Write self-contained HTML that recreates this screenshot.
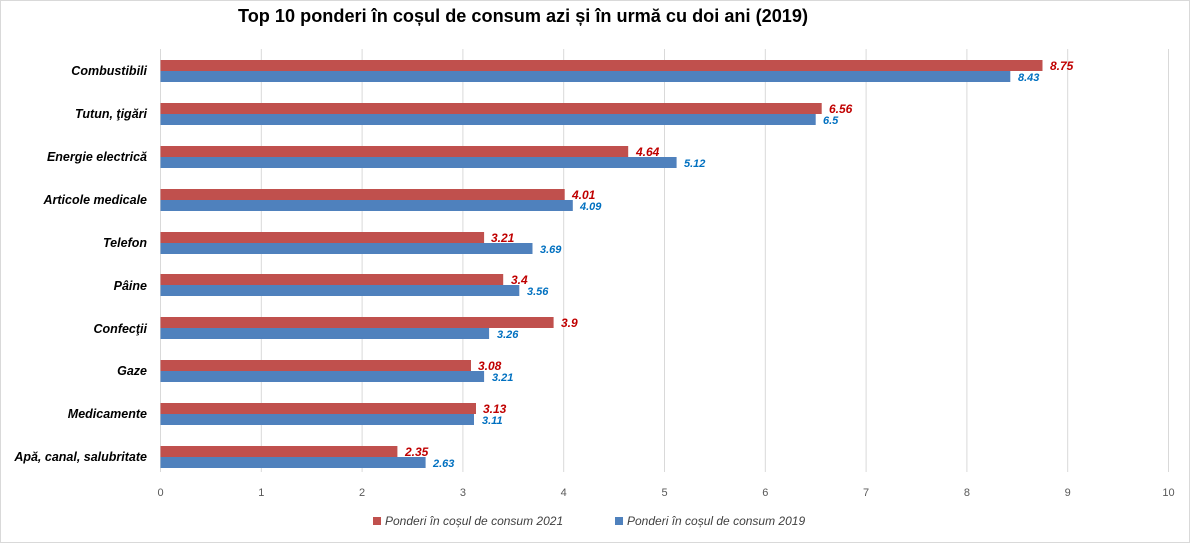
<!DOCTYPE html>
<html><head><meta charset="utf-8"><style>
html,body{margin:0;padding:0;background:#fff;}
svg{display:block;font-family:"Liberation Sans",sans-serif;}
</style></head><body>
<svg width="1200" height="560" viewBox="0 0 1200 560" xmlns="http://www.w3.org/2000/svg">
<rect x="0.5" y="0.5" width="1189" height="542" fill="#fff" stroke="#d9d9d9"/>
<text x="523" y="22" text-anchor="middle" font-size="18" font-weight="bold" textLength="570" lengthAdjust="spacingAndGlyphs">Top 10 ponderi în coșul de consum azi și în urmă cu doi ani (2019)</text>
<g stroke="#d9d9d9" stroke-width="1">
<line x1="160.5" y1="49" x2="160.5" y2="472"/>
<line x1="261.3" y1="49" x2="261.3" y2="472"/>
<line x1="362.1" y1="49" x2="362.1" y2="472"/>
<line x1="462.9" y1="49" x2="462.9" y2="472"/>
<line x1="563.7" y1="49" x2="563.7" y2="472"/>
<line x1="664.5" y1="49" x2="664.5" y2="472"/>
<line x1="765.3" y1="49" x2="765.3" y2="472"/>
<line x1="866.1" y1="49" x2="866.1" y2="472"/>
<line x1="966.9" y1="49" x2="966.9" y2="472"/>
<line x1="1067.7" y1="49" x2="1067.7" y2="472"/>
<line x1="1168.5" y1="49" x2="1168.5" y2="472"/>
</g>
<g font-size="11" fill="#595959" text-anchor="middle">
<text x="160.5" y="496">0</text><text x="261.3" y="496">1</text><text x="362.1" y="496">2</text><text x="462.9" y="496">3</text><text x="563.7" y="496">4</text><text x="664.5" y="496">5</text><text x="765.3" y="496">6</text><text x="866.1" y="496">7</text><text x="966.9" y="496">8</text><text x="1067.7" y="496">9</text><text x="1168.5" y="496">10</text>
</g>
<g id="bars"></g>
<g font-size="12.5" font-weight="bold" font-style="italic" text-anchor="end" fill="#000">
<text x="147" y="75">Combustibili</text>
<text x="147" y="118">Tutun, ţigări</text>
<text x="147" y="161">Energie electrică</text>
<text x="147" y="204">Articole medicale</text>
<text x="147" y="247">Telefon</text>
<text x="147" y="290">Pâine</text>
<text x="147" y="333">Confecţii</text>
<text x="147" y="375">Gaze</text>
<text x="147" y="418">Medicamente</text>
<text x="147" y="461">Apă, canal, salubritate</text>
</g>
<g>
<rect x="160.5" y="60" width="882" height="11" fill="#c0504d"/><rect x="160.5" y="71" width="849.8" height="11" fill="#4f81bd"/>
<rect x="160.5" y="103" width="661.2" height="11" fill="#c0504d"/><rect x="160.5" y="114" width="655.2" height="11" fill="#4f81bd"/>
<rect x="160.5" y="146" width="467.7" height="11" fill="#c0504d"/><rect x="160.5" y="157" width="516.1" height="11" fill="#4f81bd"/>
<rect x="160.5" y="189" width="404.2" height="11" fill="#c0504d"/><rect x="160.5" y="200" width="412.3" height="11" fill="#4f81bd"/>
<rect x="160.5" y="232" width="323.6" height="11" fill="#c0504d"/><rect x="160.5" y="243" width="372" height="11" fill="#4f81bd"/>
<rect x="160.5" y="274" width="342.7" height="11" fill="#c0504d"/><rect x="160.5" y="285" width="358.8" height="11" fill="#4f81bd"/>
<rect x="160.5" y="317" width="393.1" height="11" fill="#c0504d"/><rect x="160.5" y="328" width="328.6" height="11" fill="#4f81bd"/>
<rect x="160.5" y="360" width="310.5" height="11" fill="#c0504d"/><rect x="160.5" y="371" width="323.6" height="11" fill="#4f81bd"/>
<rect x="160.5" y="403" width="315.5" height="11" fill="#c0504d"/><rect x="160.5" y="414" width="313.5" height="11" fill="#4f81bd"/>
<rect x="160.5" y="446" width="236.9" height="11" fill="#c0504d"/><rect x="160.5" y="457" width="265.1" height="11" fill="#4f81bd"/>
</g>
<g font-size="12" font-weight="bold" font-style="italic" fill="#c00000">
<text x="1050" y="70">8.75</text>
<text x="829" y="113">6.56</text>
<text x="636" y="156">4.64</text>
<text x="572" y="199">4.01</text>
<text x="491" y="242">3.21</text>
<text x="511" y="284">3.4</text>
<text x="561" y="327">3.9</text>
<text x="478" y="370">3.08</text>
<text x="483" y="413">3.13</text>
<text x="405" y="456">2.35</text>
</g>
<g font-size="11" font-weight="bold" font-style="italic" fill="#0070c0">
<text x="1018" y="81">8.43</text>
<text x="823" y="124">6.5</text>
<text x="684" y="167">5.12</text>
<text x="580" y="210">4.09</text>
<text x="540" y="253">3.69</text>
<text x="527" y="295">3.56</text>
<text x="497" y="338">3.26</text>
<text x="492" y="381">3.21</text>
<text x="482" y="424">3.11</text>
<text x="433" y="467">2.63</text>
</g>
<rect x="373" y="517" width="8" height="8" fill="#c0504d"/>
<text x="385" y="525" font-size="12" font-style="italic" fill="#404040">Ponderi în coșul de consum 2021</text>
<rect x="615" y="517" width="8" height="8" fill="#4f81bd"/>
<text x="627" y="525" font-size="12" font-style="italic" fill="#404040">Ponderi în coșul de consum 2019</text>
</svg>
</body></html>
